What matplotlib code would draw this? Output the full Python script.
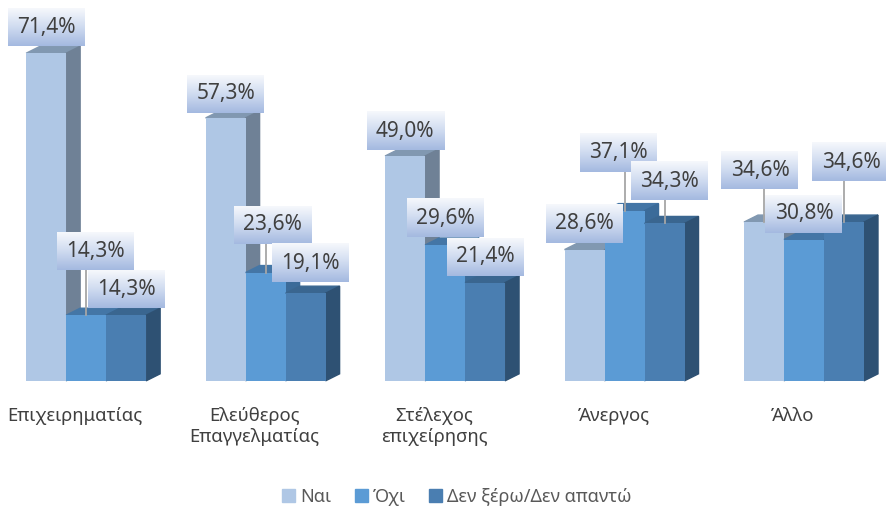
import numpy as np
import matplotlib.pyplot as plt
from matplotlib.patches import Polygon, Patch
from matplotlib.colors import LinearSegmentedColormap

plt.rcParams['font.family'] = ['Noto Sans', 'DejaVu Sans']

# Δεδομένα
categories = ['Επιχειρηματίας', 'Ελεύθερος\nΕπαγγελματίας', 'Στέλεχος\nεπιχείρησης', 'Άνεργος', 'Άλλο']
series = ['Ναι', 'Όχι', 'Δεν ξέρω/Δεν απαντώ']
nai = [71.4, 57.3, 49.0, 28.6, 34.6]
oxi = [14.3, 23.6, 29.6, 37.1, 30.8]
dk = [14.3, 19.1, 21.4, 34.3, 34.6]
values = [nai, oxi, dk]

# Χρώματα όψεων (μπροστά, πάνω, πλάι)
front = ['#AFC7E5', '#5B9BD5', '#4A7EB1']
top = ['#8198B1', '#4476A6', '#3A6690']
side = ['#6F8196', '#3B6B99', '#2E5173']

# Θέση ετικετών σε pixel σε σχέση με την κορυφή της μπάρας (dx, dy προς τα πάνω)
label_off = [
    [(0, 26), (9, 64), (0, 26)],
    [(0, 24), (7, 48), (5, 30)],
    [(0, 25), (0, 27), (0, 26)],
    [(0, 26), (-6, 58), (5, 42)],
    [(-4, 52), (0, 26), (7, 60)],
]

fig = plt.figure(figsize=(8.86, 5.07), dpi=100)
ax = fig.add_axes([0, 0, 1, 1])
xmin, xmax = -0.48, 4.457
ymin, ymax = -27.5, 83.0
ax.set_xlim(xmin, xmax)
ax.set_ylim(ymin, ymax)
ax.axis('off')

ux = (xmax - xmin) / 886   # μονάδες ανά pixel
uy = (ymax - ymin) / 507
w = 40 * ux
ddx, ddy = 14 * ux, 7 * uy
x = np.arange(len(categories))

box_cmap = LinearSegmentedColormap.from_list('box', ['#A4B9E0', '#CFDBF0', '#F6F8FC'])
grad = np.linspace(0, 1, 64).reshape(-1, 1)
bw, bh = 77 * ux, 38 * uy

for j in range(3):
    bars = ax.bar(x + (j - 1) * w, values[j], width=w, color=front[j],
                  zorder=2 * j + 2)
    for i, rect in enumerate(bars):
        x0 = rect.get_x()
        x1 = x0 + rect.get_width()
        h = rect.get_height()
        ax.add_patch(Polygon([(x0, h), (x1, h), (x1 + ddx, h + ddy), (x0 + ddx, h + ddy)],
                             closed=True, color=top[j], zorder=2 * j + 1))
        ax.add_patch(Polygon([(x1, 0), (x1 + ddx, ddy), (x1 + ddx, h + ddy), (x1, h)],
                             closed=True, color=side[j], zorder=2 * j + 1))

        # ετικέτα τιμής
        xc = x0 + w / 2
        ox, oy = label_off[i][j]
        cx, cy = xc + ox * ux, h + oy * uy
        ax.imshow(grad, cmap=box_cmap, origin='lower', aspect='auto',
                  extent=[cx - bw / 2, cx + bw / 2, cy - bh / 2, cy + bh / 2],
                  zorder=20, interpolation='bilinear')
        ax.text(cx, cy, f'{h:.1f}%'.replace('.', ','), ha='center', va='center',
                fontsize=15, color='#404040', zorder=21)
        if oy > 35:
            lx = min(max(xc, cx - bw / 2 + 4 * ux), cx + bw / 2 - 4 * ux)
            ax.plot([lx, xc], [cy - bh / 2, h], color='#A6A6A6', lw=1.3, zorder=19)

ax.set_xlim(xmin, xmax)
ax.set_ylim(ymin, ymax)

for i, cat in enumerate(categories):
    ax.text(x[i] - 11 * ux, -26 * uy, cat, ha='center', va='top',
            fontsize=13.3, color='#404040', linespacing=1.25)

handles = [Patch(color=c) for c in front]
fig.legend(handles, series, loc='lower center', ncol=3, frameon=False,
           bbox_to_anchor=(0.516, -0.03), handlelength=0.7, handleheight=0.7,
           handletextpad=0.3, columnspacing=1.3, fontsize=13, labelcolor='#595959')

fig.savefig('out.png', dpi=100)
